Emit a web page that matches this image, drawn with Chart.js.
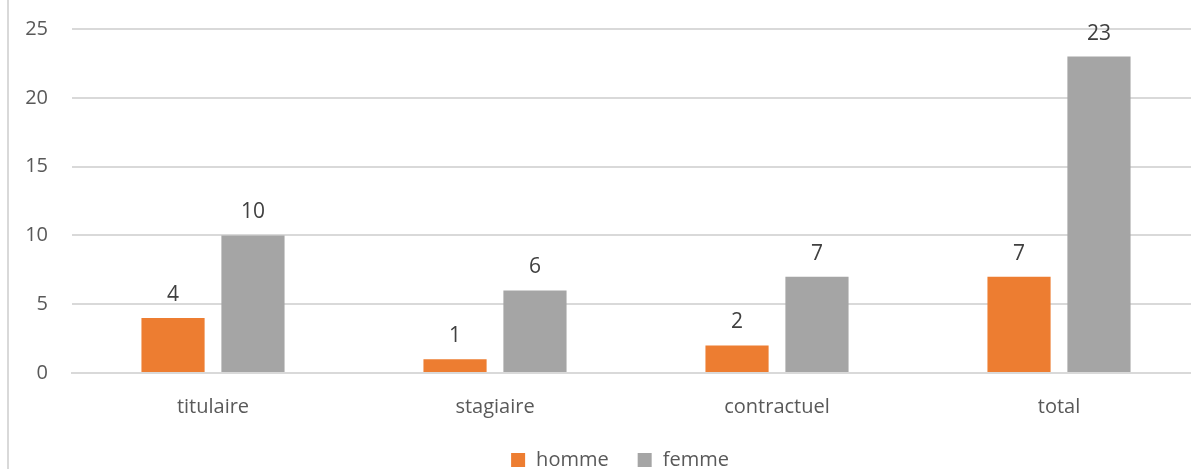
<!DOCTYPE html>
<html>
<head>
<meta charset="utf-8">
<script src="https://cdn.jsdelivr.net/npm/chart.js@4/dist/chart.umd.min.js"></script>
<style>
  html, body { margin: 0; padding: 0; background: #fff; overflow: hidden; }
  #wrap { position: relative; width: 1200px; height: 469px; }
  #frame { position: absolute; left: 7px; top: 0; width: 2px; height: 469px; background: #d9d9d9; }
</style>
</head>
<body>
<div id="wrap">
  <canvas id="chart" width="1200" height="469"></canvas>
  <div id="frame"></div>
</div>
<script>
// Chart data
const categories = ['titulaire', 'stagiaire', 'contractuel', 'total']
const hommeValues = [4, 1, 2, 7]
const femmeValues = [10, 6, 7, 23]
const yTicks = [0, 5, 10, 15, 20, 25]

const FONT = '"Open Sans", sans-serif'

// Draw the value above each bar
const valueLabels = {
  id: 'valueLabels',
  afterDatasetsDraw(chart) {
    const ctx = chart.ctx
    ctx.save()
    ctx.font = '21px ' + FONT
    ctx.fillStyle = '#404040'
    ctx.textAlign = 'center'
    ctx.textBaseline = 'alphabetic'
    chart.data.datasets.forEach((ds, i) => {
      chart.getDatasetMeta(i).data.forEach((bar, j) => {
        ctx.fillText(ds.data[j], bar.x, bar.y - 17)
      })
    })
    ctx.restore()
  }
}

// Legend drawn by hand so it sits where the original one does
const bottomLegend = {
  id: 'bottomLegend',
  afterDraw(chart) {
    const ctx = chart.ctx
    const box = 14, gap = 11, spacing = 29
    const cy = 460
    ctx.save()
    ctx.font = '20px ' + FONT
    ctx.textBaseline = 'middle'
    const items = chart.data.datasets.map(ds => ({
      text: ds.label,
      color: ds.backgroundColor,
      w: box + gap + ctx.measureText(ds.label).width
    }))
    const total = items.reduce((s, it) => s + it.w, 0) + spacing * (items.length - 1)
    let x = 620 - total / 2
    items.forEach(it => {
      ctx.fillStyle = it.color
      ctx.fillRect(x, cy - box / 2, box, box)
      ctx.fillStyle = '#595959'
      ctx.fillText(it.text, x + box + gap, cy)
      x += it.w + spacing
    })
    ctx.restore()
  }
}

new Chart(document.getElementById('chart'), {
  type: 'bar',
  data: {
    labels: categories,
    datasets: [
      { label: 'homme', data: hommeValues, backgroundColor: '#ED7D31' },
      { label: 'femme', data: femmeValues, backgroundColor: '#A5A5A5' }
    ]
  },
  options: {
    responsive: false,
    animation: false,
    categoryPercentage: 0.567,
    barPercentage: 0.79,
    layout: { padding: { top: 29, left: 0, right: 0, bottom: 36 } },
    scales: {
      x: {
        grid: { display: false },
        border: { display: true, color: '#d9d9d9', width: 2 },
        ticks: { color: '#595959', font: { family: FONT, size: 20 }, padding: 14 },
        afterFit: scale => { scale.height = 60 }
      },
      y: {
        min: 0,
        max: 25,
        afterBuildTicks: scale => { scale.ticks = yTicks.map(v => ({ value: v })) },
        grid: { color: '#d9d9d9', lineWidth: 2, drawTicks: false },
        border: { display: false },
        ticks: { color: '#595959', font: { family: FONT, size: 20 }, padding: 24 },
        afterFit: scale => {
          scale.width = 72
          scale.paddingTop = 0
          scale.paddingBottom = 0
        }
      }
    },
    plugins: {
      legend: { display: false },
      tooltip: { enabled: false }
    }
  },
  plugins: [valueLabels, bottomLegend]
})
</script>
</body>
</html>
